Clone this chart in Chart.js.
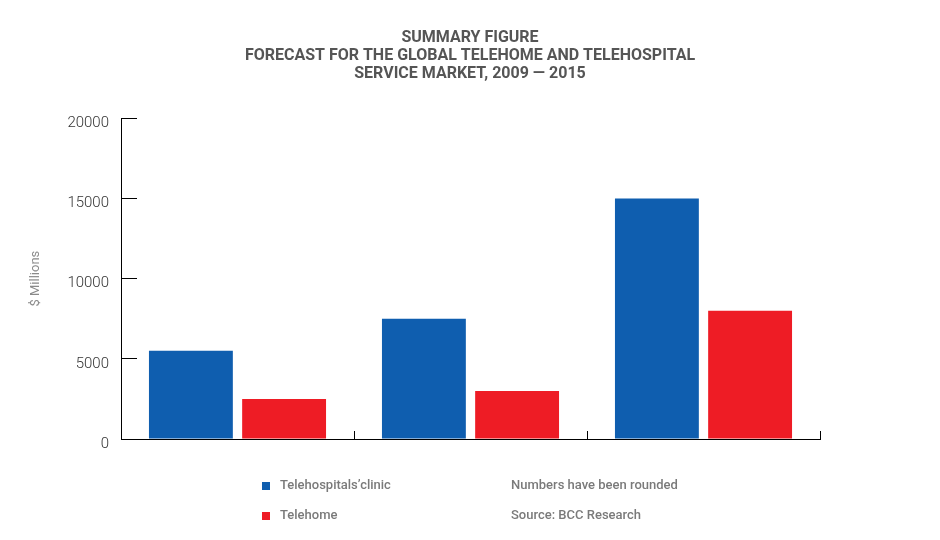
<!DOCTYPE html>
<html>
<head>
<meta charset="utf-8">
<script src="https://cdn.jsdelivr.net/npm/chart.js@4/dist/chart.umd.min.js"></script>
<style>
  body { margin: 0; background: #fff; }
  #wrap { position: relative; width: 940px; height: 540px; }
  #legend { position: absolute; left: 262px; top: 477px; font-family: Roboto, sans-serif; font-size: 13px; font-weight: 500; color: #7a7a7a; }
  .row { position: relative; height: 30px; }
  .box { position: absolute; left: 0; top: 5px; width: 8px; height: 8px; }
  .name { position: absolute; left: 18px; top: 0; white-space: nowrap; }
  .note { position: absolute; left: 249px; top: 0; white-space: nowrap; }
</style>
</head>
<body>
<div id="wrap">
  <canvas id="chart" width="940" height="540"></canvas>
  <div id="legend"></div>
</div>
<script>
const categories = ["2009", "2010", "2015"];
const clinicValues = [5500, 7500, 15000];
const telehomeValues = [2500, 3000, 8000];
const seriesNames = ["Telehospitals\u2019clinic", "Telehome"];
const seriesColors = ["#0f5eaf", "#ee1c25"];
const notes = ["Numbers have been rounded", "Source: BCC Research"];
const titleLines = [
  "SUMMARY FIGURE",
  "FORECAST FOR THE GLOBAL TELEHOME AND TELEHOSPITAL",
  "SERVICE MARKET, 2009 \u2014 2015",
];

const ctx = document.getElementById("chart");
const chart = new Chart(ctx, {
  type: "bar",
  data: {
    labels: categories,
    datasets: [
      {
        label: seriesNames[0],
        data: clinicValues,
        backgroundColor: seriesColors[0],
      },
      {
        label: seriesNames[1],
        data: telehomeValues,
        backgroundColor: seriesColors[1],
      },
    ],
  },
  options: {
    responsive: false,
    animation: false,
    plugins: {
      legend: { display: false },
      tooltip: { enabled: false },
      title: {
        display: true,
        text: titleLines,
        color: "#555",
        font: { family: "Roboto", size: 16, weight: "bold", lineHeight: 1.13 },
        padding: { top: 29, bottom: 35 },
      },
    },
    scales: {
      x: {
        grid: { drawOnChartArea: false, tickLength: -8, color: "#000" },
        border: { color: "#000" },
        ticks: { display: false },
        afterFit: (scale) => {
          scale.height = 101;
        },
      },
      y: {
        min: 0,
        max: 20000,
        ticks: {
          stepSize: 5000,
          color: "#333",
          padding: 28,
          labelOffset: 5,
          font: { family: "Roboto", size: 15, weight: "300" },
          callback: (value) => String(value),
        },
        grid: { drawOnChartArea: false, tickLength: -16, color: "#000" },
        border: { color: "#000" },
        title: {
          display: true,
          text: "$ Millions",
          color: "#8a8a8a",
          font: { family: "Roboto", size: 13 },
          padding: { top: 28, bottom: 0 },
        },
        afterFit: (scale) => {
          scale.width = 121;
        },
      },
      // empty space on the right so the title stays centred on the page
      pad: {
        position: "right",
        display: true,
        grid: { display: false },
        border: { display: false },
        ticks: { display: false },
        afterFit: (scale) => {
          scale.width = 120;
        },
      },
    },
  },
});

// legend rows and notes under the chart
const legend = document.getElementById("legend");
chart.data.datasets.forEach((ds, i) => {
  const row = document.createElement("div");
  row.className = "row";
  row.innerHTML =
    '<span class="box" style="background:' + ds.backgroundColor + '"></span>' +
    '<span class="name">' + ds.label + "</span>" +
    '<span class="note">' + notes[i] + "</span>";
  legend.appendChild(row);
});
</script>
</body>
</html>
